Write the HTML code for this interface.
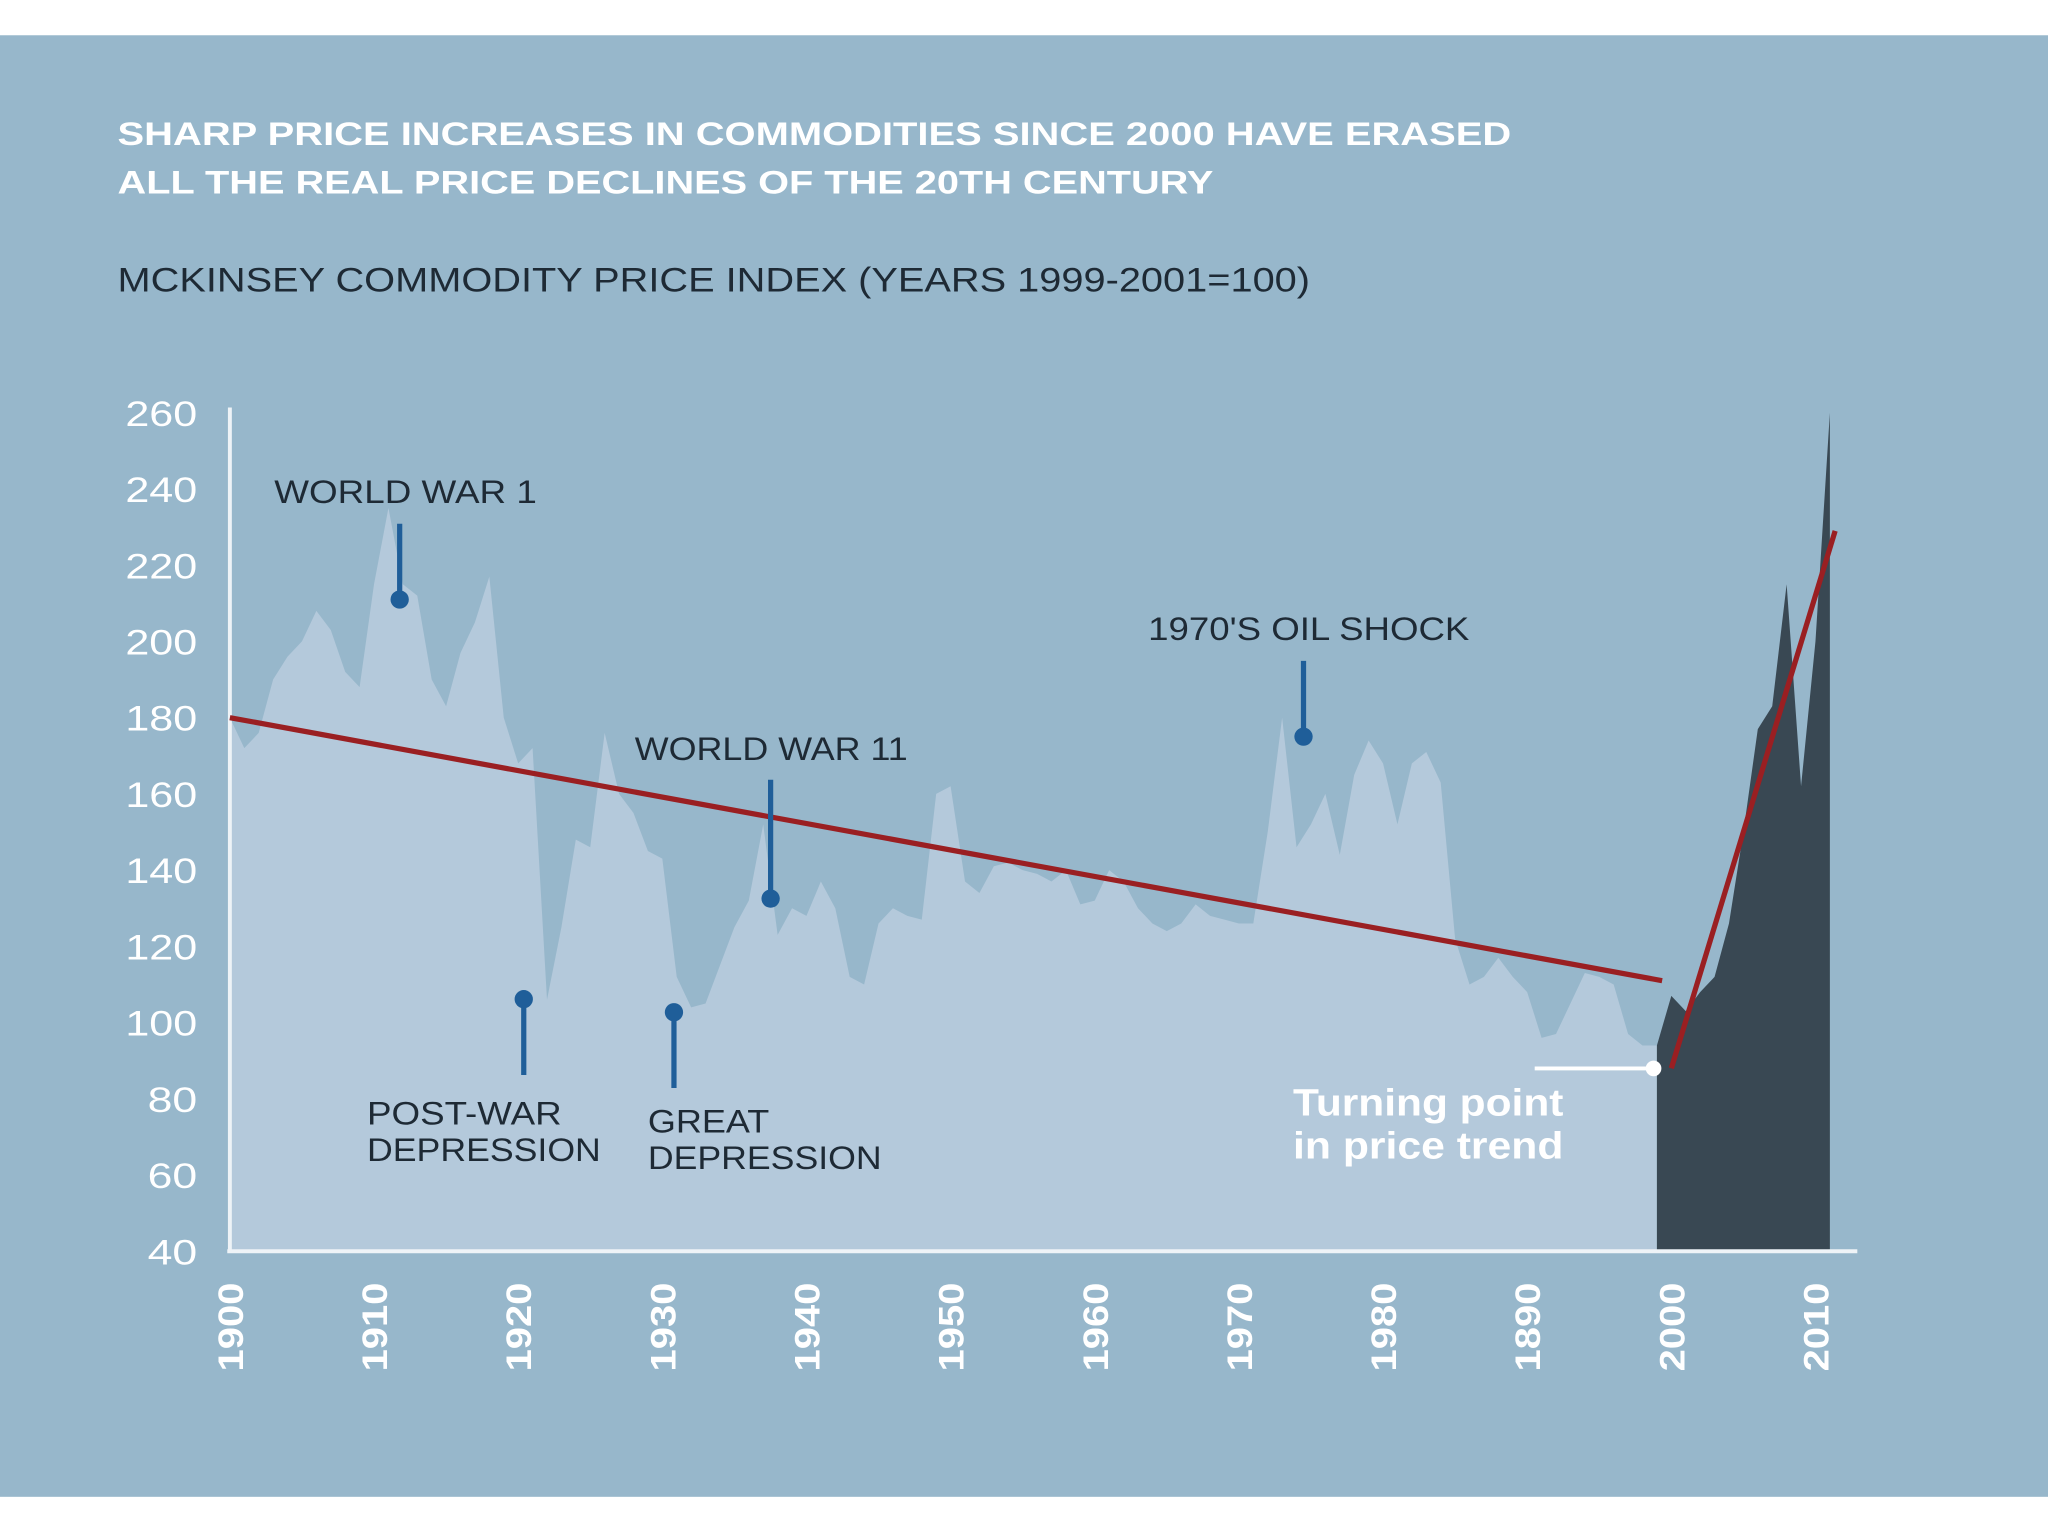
<!DOCTYPE html>
<html><head><meta charset="utf-8"><style>
html,body{margin:0;padding:0;background:#fff;}
svg{display:block;}
text{font-family:"Liberation Sans",sans-serif;}
</style></head><body>
<svg id="chart" width="2048" height="1536" viewBox="0 0 1568 1176" xmlns="http://www.w3.org/2000/svg">
<rect x="0" y="0" width="1568" height="1176" fill="#ffffff"/>
<rect x="0" y="27" width="1568" height="1119" fill="#97b7cb"/>
<text x="90" y="111" fill="#ffffff" font-size="25" font-weight="bold" textLength="1067" lengthAdjust="spacingAndGlyphs">SHARP PRICE INCREASES IN COMMODITIES SINCE 2000 HAVE ERASED</text>
<text x="90" y="148" fill="#ffffff" font-size="25" font-weight="bold" textLength="839" lengthAdjust="spacingAndGlyphs">ALL THE REAL PRICE DECLINES OF THE 20TH CENTURY</text>
<text x="90" y="223" fill="#1e2a35" font-size="26" textLength="913" lengthAdjust="spacingAndGlyphs">MCKINSEY COMMODITY PRICE INDEX (YEARS 1999-2001=100)</text>
<g id="plot"></g>
</svg>
<script>
const years = [];
for (let y = 1900; y <= 1998; y++) years.push(y);
const values = [180,172,176,190,196,200,208,203,192,188,215,235,215,212,190,183,197,205,217,180,168,172,106,125,148,146,176,160,155,145,143,112,104,105,115,125,132,152,123,130,128,137,130,112,110,126,130,128,127,160,162,137,134,141,142,140,139,137,140,131,132,140,137,130,126,124,126,131,128,127,126,126,150,180,146,152,160,144,165,174,168,152,168,171,163,122,110,112,117,112,108,96,97,105,113,112,110,97,94];
const recentYears = [1999,2000,2001,2002,2003,2004,2005,2006,2007,2008,2009,2010,2011];
const recentValues = [94,107,103,108,112,126,150,177,183,215,162,200,260];
const yTicks = [40,60,80,100,120,140,160,180,200,220,240,260];
const xTicks = [1900,1910,1920,1930,1940,1950,1960,1970,1980,1990,2000,2010];
const xTickLabels = ["1900","1910","1920","1930","1940","1950","1960","1970","1980","1890","2000","2010"];
const trend1 = [[1900,180],[1999,111]];
const trend2 = [[2000,88],[2012,229]];

const NS = "http://www.w3.org/2000/svg";
const X = yr => 176 + (yr - 1900) * (1225 / 111);
const Y = v => 958 - (v - 40) * (642 / 220);
const g = document.getElementById('plot');
function mk(tag, attrs, parent) {
  const e = document.createElementNS(NS, tag);
  for (const k in attrs) e.setAttribute(k, attrs[k]);
  (parent || g).appendChild(e);
  return e;
}
let d = `M${X(years[0])},${Y(40)}`;
years.forEach((y, i) => d += ` L${X(y)},${Y(values[i])}`);
d += ` L${X(recentYears[0])},${Y(recentValues[0])} L${X(recentYears[0])},${Y(40)} Z`;
let a = mk('path', {d, fill: '#b4c9db'});


let d2 = `M${X(recentYears[0])},${Y(40)}`;
recentYears.forEach((y, i) => d2 += ` L${X(y)},${Y(recentValues[i])}`);
d2 += ` L${X(recentYears[recentYears.length-1])},${Y(40)} Z`;
a = mk('path', {d: d2, fill: '#394853'});


let ax = mk('line', {x1: 176, y1: 312, x2: 176, y2: 958, stroke: '#eef3f7', 'stroke-width': 3});


ax = mk('line', {x1: 174, y1: 958, x2: 1422, y2: 958, stroke: '#eef3f7', 'stroke-width': 3});


yTicks.forEach(v => {
  const len = String(v).length === 3 ? 55 : 38;
  const t = mk('text', {x: 151, y: Y(v) + 10, 'text-anchor': 'end', fill: '#ffffff', 'font-size': 27, textLength: len, lengthAdjust: 'spacingAndGlyphs'});
  t.textContent = v;
  
  
});
xTicks.forEach((yr, i) => {
  const x = X(yr) + 10, y = 982;
  const t = mk('text', {x, y, transform: `rotate(-90 ${x} ${y})`, 'text-anchor': 'end', fill: '#ffffff', 'font-size': 27, 'font-weight': 'bold', textLength: 68, lengthAdjust: 'spacingAndGlyphs'});
  t.textContent = xTickLabels[i];
  
  
});
let tl = mk('line', {x1: X(trend1[0][0]), y1: Y(trend1[0][1]), x2: X(trend1[1][0]) + 4, y2: Y(trend1[1][1]), stroke: '#9a1f22', 'stroke-width': 4});


tl = mk('line', {x1: X(trend2[0][0]), y1: Y(trend2[0][1]), x2: X(trend2[1][0]) - 7, y2: Y(trend2[1][1]), stroke: '#9a1f22', 'stroke-width': 4});


let tp = mk('line', {x1: 1175, y1: 818, x2: 1266, y2: 818, stroke: '#ffffff', 'stroke-width': 3});


tp = mk('circle', {cx: 1266, cy: 818, r: 6, fill: '#ffffff'});


[['Turning point', 854, 207], ['in price trend', 887, 207]].forEach(([s, y, w]) => {
  const t = mk('text', {x: 990, y, fill: '#ffffff', 'font-size': 29, 'font-weight': 'bold', textLength: w, lengthAdjust: 'spacingAndGlyphs'});
  t.textContent = s;
  
  
});
const notes = [
  {name: 'world-war-1', lines: ['WORLD WAR 1'], widths: [201], tx: 210, ty: 385, x: 306, y1: 401, y2: 459, dot: 459},
  {name: 'post-war-depression', lines: ['POST-WAR', 'DEPRESSION'], widths: [149, 179], tx: 281, ty: 861, x: 401, y1: 765, y2: 823, dot: 765},
  {name: 'great-depression', lines: ['GREAT', 'DEPRESSION'], widths: [93, 179], tx: 496, ty: 867, x: 516, y1: 775, y2: 833, dot: 775},
  {name: 'world-war-2', lines: ['WORLD WAR 11'], widths: [209], tx: 486, ty: 582, x: 590, y1: 597, y2: 688, dot: 688},
  {name: 'oil-shock-1970s', lines: ["1970'S OIL SHOCK"], widths: [246], tx: 879, ty: 490, x: 998, y1: 506, y2: 564, dot: 564}
];
notes.forEach(n => {
  n.lines.forEach((s, i) => {
    const t = mk('text', {x: n.tx, y: n.ty + i * 28, fill: '#1e2a35', 'font-size': 25, textLength: n.widths[i], lengthAdjust: 'spacingAndGlyphs'});
    t.textContent = s;
    
    
  });
  const l = mk('line', {x1: n.x, y1: n.y1, x2: n.x, y2: n.y2, stroke: '#1f5e99', 'stroke-width': 4});
  
  
  const c = mk('circle', {cx: n.x, cy: n.dot, r: 7, fill: '#1f5e99'});
  
  
});
</script>
</body></html>
